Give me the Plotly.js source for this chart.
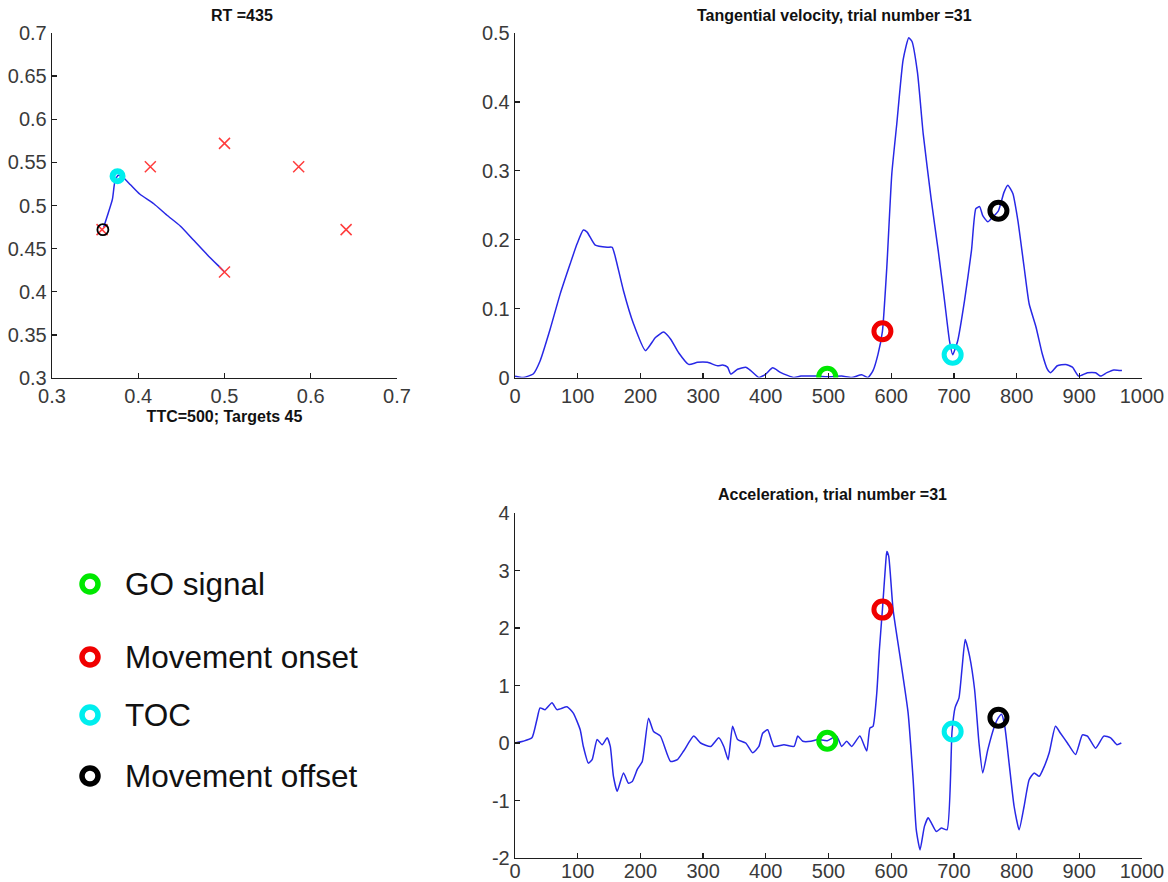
<!DOCTYPE html>
<html>
<head>
<meta charset="utf-8">
<script src="https://cdn.plot.ly/plotly-3.0.1.min.js"></script>
<style>
  html, body { margin: 0; padding: 0; background: #ffffff; }
  #chart { width: 1168px; height: 882px; }
</style>
</head>
<body>
<div id="chart"></div>
<script>
// ---- Hand path in the workspace (metres) ----
const targetX = [0.358, 0.414, 0.5, 0.586, 0.641, 0.5];
const targetY = [0.472, 0.545, 0.572, 0.545, 0.472, 0.423];
const pathX = [0.5, 0.495, 0.480, 0.464, 0.449, 0.433, 0.418, 0.402, 0.391, 0.383, 0.377, 0.373, 0.370, 0.364, 0.360];
const pathY = [0.423, 0.428, 0.443, 0.460, 0.476, 0.489, 0.502, 0.513, 0.524, 0.532, 0.535, 0.528, 0.507, 0.4875, 0.475];
const tocXY = [0.376, 0.534];
const offsetXY = [0.359, 0.472];

// ---- Tangential velocity over time (ms) ----
const velT = [0,13,29,40,56,72,88,99,109,115, 128,147,155,160,173,189,208,224,237,248,
              261,277,291,307,323,331,339,344,355,368, 376,389,400,411,424,445,456,483,498,521,
              537,553,563,571,579,586,593,601,609,619, 628,633,642,651,664,675,685,693,698,706,
              717,728,735,741,746,754,762,771,780,786, 794,802,812,820,831,841,849,854,865,878,
              889,899,913,926,934,944,955,968];
const velV = [0.002,0,0.005,0.024,0.07,0.121,0.165,0.194,0.214,0.211, 0.192,0.189,0.189,0.175,0.126,0.078,0.039,0.058,0.066,0.056,
              0.036,0.019,0.022,0.022,0.017,0.018,0.015,0.005,0.012,0.015, 0.01,0,0.005,0.014,0.007,0,0.002,0.002,0.001,0.002,
              0,0.004,0,0.01,0.034,0.067,0.16,0.296,0.369,0.461, 0.493,0.488,0.442,0.354,0.257,0.184,0.112,0.053,0.033,0.053,
              0.112,0.184,0.245,0.248,0.235,0.226,0.233,0.242,0.269,0.279, 0.267,0.228,0.16,0.107,0.073,0.034,0.012,0.007,0.017,0.019,
              0.015,0.002,0.007,0.007,0.002,0.007,0.011,0.01];

// ---- Acceleration over time (ms) ----
const accT = [0,13,27,35,40,48,59,67,83,93, 104,109,117,123,131,139,147,152,157,163,
              173,181,187,195,203,213,221,232,248,259, 269,285,296,312,325,333,340,347,355,368,
              379,389,395,403,413,429,445,451,459,472, 483,498,513,521,529,537,550,561,566,571,
              577,581,586,591,593,596,603,614,627,635, 640,646,653,659,664,672,680,689,697,702,
              708,713,718,725,733,740,746,754,765,771, 776,781,788,796,804,812,820,828,836,844,
              852,862,870,881,894,905,913,926,939,950, 960,967];
const accA = [0,0.03,0.09,0.41,0.61,0.58,0.70,0.58,0.63,0.52, 0.23,-0.06,-0.35,-0.29,0.06,-0.03,0.09,-0.06,-0.58,-0.84,
              -0.52,-0.70,-0.67,-0.46,-0.32,0.43,0.20,0.12,-0.32,-0.29, -0.14,0.12,0,-0.06,0.09,-0.06,-0.29,0.29,0.06,0,
              -0.17,-0.06,0.17,0.23,-0.06,-0.03,-0.06,0.12,0.03,0.03, 0.06,0.04,0.12,-0.06,0.03,-0.06,0.12,-0.14,0.26,0.29,
              0.87,1.6,2.32,3.1,3.33,3.25,2.32,1.51,0.52,-0.64, -1.51,-1.86,-1.45,-1.30,-1.39,-1.54,-1.48,-1.51,0.2,0.62,
              0.78,1.3,1.80,1.51,0.93,0,-0.52,-0.12,0.30,0.44, 0.50,0.30,-0.35,-1.10,-1.51,-1.10,-0.64,-0.52,-0.58,-0.41,
              -0.17,0.29,0.17,0,-0.20,0.14,0.12,-0.09,0.12,0.09, -0.03,0];

// ---- Event markers ----
const eventNames = ['GO signal', 'Movement onset', 'TOC', 'Movement offset'];
const eventColors = ['rgb(0,232,0)', 'rgb(240,0,0)', 'rgb(0,238,238)', 'rgb(0,0,0)'];
const eventT = [498, 586, 698, 771];
const eventVel = [0.001, 0.067, 0.033, 0.242];
const eventAcc = [0.04, 2.32, 0.2, 0.44];

// ---- Tick labels ----
const posTicks = [0.3, 0.4, 0.5, 0.6, 0.7];
const posYTicks = [0.3, 0.35, 0.4, 0.45, 0.5, 0.55, 0.6, 0.65, 0.7];
const timeTicks = [0, 100, 200, 300, 400, 500, 600, 700, 800, 900, 1000];
const velTicks = [0, 0.1, 0.2, 0.3, 0.4, 0.5];
const accTicks = [-2, -1, 0, 1, 2, 3, 4];
const accTickText = ['-2', '-1', '0', '1', '2', '3', '4'];

const FONT = 'Liberation Sans, Arial, Helvetica, sans-serif';
const TICKFONT = 'Liberation Sans Narrow, Arial Narrow, Liberation Sans, sans-serif';
const W = 1168, H = 882;
const BLUE = 'rgb(40,40,230)';
const RED_X = 'rgb(255,60,60)';

function axisStyle(extra) {
  return Object.assign({
    showline: true, linecolor: '#1e1e1e', linewidth: 1.3,
    ticks: 'inside', ticklen: 5, tickwidth: 1.3, tickcolor: '#1e1e1e',
    showgrid: false, zeroline: false, mirror: false, fixedrange: true,
    tickfont: { family: TICKFONT, size: 20, color: '#3a3a3a' }
  }, extra);
}

const traces = [
  // workspace
  { x: pathX, y: pathY, xaxis: 'x', yaxis: 'y', mode: 'lines', type: 'scatter',
    line: { color: BLUE, width: 1.5, shape: 'spline', smoothing: 0.6 }, showlegend: false },
  { x: targetX, y: targetY, xaxis: 'x', yaxis: 'y', mode: 'markers', type: 'scatter',
    marker: { symbol: 'x-thin-open', size: 11, color: RED_X, line: { color: RED_X, width: 1.5 } }, showlegend: false },
  { x: [tocXY[0]], y: [tocXY[1]], xaxis: 'x', yaxis: 'y', mode: 'markers', type: 'scatter',
    marker: { symbol: 'circle-open', size: 10, color: eventColors[2], line: { color: eventColors[2], width: 6 } }, showlegend: false },
  { x: [offsetXY[0]], y: [offsetXY[1]], xaxis: 'x', yaxis: 'y', mode: 'markers', type: 'scatter',
    marker: { symbol: 'circle-open', size: 11, color: eventColors[3], line: { color: eventColors[3], width: 1.8 } }, showlegend: false },
  // velocity
  { x: velT, y: velV, xaxis: 'x2', yaxis: 'y2', mode: 'lines', type: 'scatter',
    line: { color: BLUE, width: 1.5, shape: 'spline', smoothing: 0.5 }, showlegend: false },
  // acceleration
  { x: accT, y: accA, xaxis: 'x3', yaxis: 'y3', mode: 'lines', type: 'scatter',
    line: { color: BLUE, width: 1.5, shape: 'spline', smoothing: 0.5 }, showlegend: false }
];

eventNames.forEach((name, i) => {
  const m = { symbol: 'circle-open', size: 17, color: eventColors[i], line: { color: eventColors[i], width: 5 } };
  traces.push({ x: [eventT[i]], y: [eventVel[i]], xaxis: 'x2', yaxis: 'y2', name: name,
    mode: 'markers', type: 'scatter', showlegend: false, marker: m });
  traces.push({ x: [eventT[i]], y: [eventAcc[i]], xaxis: 'x3', yaxis: 'y3', name: name,
    mode: 'markers', type: 'scatter', showlegend: false, marker: m });
});

// key for the event markers, lower left
const keyY = [584, 657, 715, 776];
const shapes = [];
const annotations = [];
eventNames.forEach((name, i) => {
  const py = 1 - keyY[i] / H;
  shapes.push({ type: 'circle', xref: 'paper', yref: 'paper', xsizemode: 'pixel', ysizemode: 'pixel',
    xanchor: 90 / W, yanchor: py, x0: -8, x1: 8, y0: -8, y1: 8,
    line: { color: eventColors[i], width: 5.5 }, fillcolor: 'rgba(0,0,0,0)' });
  annotations.push({ xref: 'paper', yref: 'paper', x: 123 / W, y: py, xanchor: 'left', yanchor: 'middle',
    text: name, showarrow: false, font: { family: FONT, size: 31.5, color: '#111111' } });
});

const titleFont = { family: FONT, size: 16, color: '#111111' };
annotations.push(
  { xref: 'paper', yref: 'paper', x: 242 / W, y: 1 - 16 / H, xanchor: 'center', yanchor: 'middle',
    text: '<b>RT =435</b>', showarrow: false, font: titleFont },
  { xref: 'paper', yref: 'paper', x: 834 / W, y: 1 - 16 / H, xanchor: 'center', yanchor: 'middle',
    text: '<b>Tangential velocity, trial number =31</b>', showarrow: false, font: titleFont },
  { xref: 'paper', yref: 'paper', x: 832 / W, y: 1 - 495 / H, xanchor: 'center', yanchor: 'middle',
    text: '<b>Acceleration, trial number =31</b>', showarrow: false, font: titleFont }
);

const layout = {
  width: W, height: H,
  margin: { l: 0, r: 0, t: 0, b: 0 },
  paper_bgcolor: '#ffffff', plot_bgcolor: '#ffffff',
  showlegend: false, hovermode: false,
  xaxis: axisStyle({ domain: [52 / W, 397 / W], range: [0.3, 0.7], tickvals: posTicks, anchor: 'y',
    title: { text: '<b>TTC=500; Targets 45</b>', font: titleFont, standoff: 4 } }),
  yaxis: axisStyle({ domain: [1 - 378 / H, 1 - 33 / H], range: [0.3, 0.7], tickvals: posYTicks, anchor: 'x' }),
  xaxis2: axisStyle({ domain: [515 / W, 1142 / W], range: [0, 1000], tickvals: timeTicks, anchor: 'y2' }),
  yaxis2: axisStyle({ domain: [1 - 377.5 / H, 1 - 33 / H], range: [0, 0.5], tickvals: velTicks, anchor: 'x2' }),
  xaxis3: axisStyle({ domain: [515 / W, 1142 / W], range: [0, 1000], tickvals: timeTicks, anchor: 'y3',
    ticklabelstandoff: -5 }),
  yaxis3: axisStyle({ domain: [1 - 858 / H, 1 - 513 / H], range: [-2, 4], tickvals: accTicks, ticktext: accTickText, anchor: 'x3' }),
  shapes: shapes,
  annotations: annotations
};

Plotly.newPlot('chart', traces, layout, { staticPlot: true, displayModeBar: false });
</script>
</body>
</html>
